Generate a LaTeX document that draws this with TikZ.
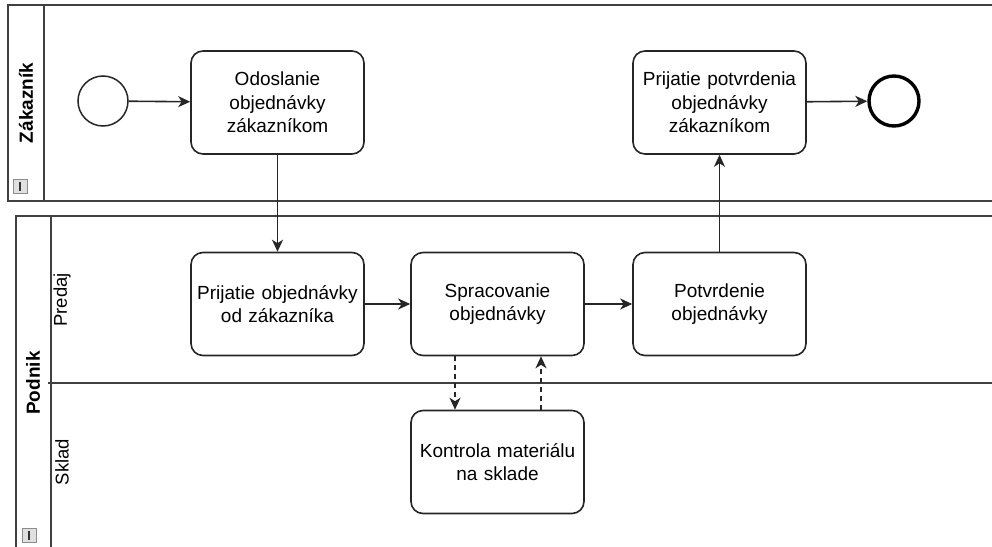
\documentclass[tikz,border=0pt]{standalone}
\usepackage{fontspec}
\setmainfont{Liberation Sans}
\usetikzlibrary{arrows.meta}
\begin{document}
\begin{tikzpicture}[x=1pt,y=-1pt,
  pool/.style={draw=black!75,line width=2pt},
  task/.style={draw=black!85,line width=1.6pt,rounded corners=12pt,
    minimum width=173pt,minimum height=103pt,inner sep=0pt,
    align=center,font=\fontsize{19}{23.5}\selectfont,text width=168pt},
  flow/.style={draw=black!85,line width=1.6pt,
    -{Stealth[length=12pt,width=11pt,inset=3.5pt]}},
  msgflow/.style={flow,dashed,dash pattern=on 5pt off 4pt},
  startev/.style={circle,draw=black!85,line width=1.5pt,minimum size=50pt,inner sep=0pt},
  endev/.style={circle,draw=black,line width=3.4pt,minimum size=50pt,inner sep=0pt},
  poollabel/.style={rotate=90,font=\bfseries\fontsize{19}{22}\selectfont},
  lanelabel/.style={rotate=90,font=\fontsize{18.5}{22}\selectfont},
  collapse/.style={draw=black!45,fill=black!12,line width=0.8pt,minimum size=14pt,inner sep=0pt}
]
\useasboundingbox (0,0) rectangle (992,546);
\fill[white] (0,0) rectangle (992,546);

% pool: Zakaznik
\draw[pool] (8,5) rectangle (1000,201);
\draw[pool] (44,5) -- (44,201);
\node[poollabel] (zlab) at (26,103) {Zákazník};
\node[collapse] (zicon) at (20,186) {};
\draw[black!80,line width=1.6pt] (zicon.center) ++(0,-4.5) -- ++(0,9);

% pool: Podnik with lanes Predaj and Sklad
\draw[pool] (16,216) rectangle (1000,560);
\draw[pool] (51,216) -- (51,560);
\draw[pool] (48,383) -- (1000,383);
\node[poollabel] (plab) at (33,383) {Podnik};
\node[lanelabel] (predlab) at (62,300) {Predaj};
\node[lanelabel] (skladlab) at (62,462) {Sklad};
\node[collapse] (picon) at (29,535) {};
\draw[black!80,line width=1.6pt] (picon.center) ++(0,-4.5) -- ++(0,9);

% events and tasks
\node[startev] (start) at (103,101) {};
\node[task] (odos) at (277.5,102.5) {Odoslanie\\objednávky\\zákazníkom};
\node[task] (potvz) at (719.5,102.5) {Prijatie potvrdenia\\objednávky\\zákazníkom};
\node[endev] (end) at (894,101) {};
\node[task] (prij) at (277.5,304) {Prijatie objednávky\\od zákazníka};
\node[task] (spr) at (497.5,304) {Spracovanie\\objednávky};
\node[task] (potv) at (719.5,304) {Potvrdenie\\objednávky};
\node[task] (kon) at (497.5,462) {Kontrola materiálu\\na sklade};

% sequence flows
\draw[flow] (start) -- (odos);
\draw[flow] (odos) -- (prij);
\draw[flow] (prij) -- (spr);
\draw[flow] (spr) -- (potv);
\draw[flow] (potv) -- (potvz);
\draw[flow] (potvz) -- (end);

% dashed flows between the lanes
\coordinate (dn) at (455,0);
\coordinate (up) at (541,0);
\draw[msgflow] (spr.south -| dn) -- (kon.north -| dn);
\draw[msgflow] (kon.north -| up) -- (spr.south -| up);
\end{tikzpicture}
\end{document}
